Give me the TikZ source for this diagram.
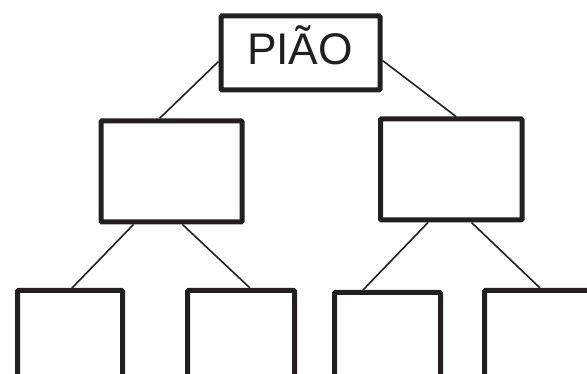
\documentclass[tikz,border=0pt]{standalone}
\usepackage{fontspec}
\setmainfont{Liberation Sans}
\definecolor{ink}{RGB}{35,31,32}
\begin{document}
\begin{tikzpicture}[x=1pt,y=-1pt,
  box/.style={draw=ink, line width=5pt, rounded corners=1pt, inner sep=0pt},
  conn/.style={draw=ink, line width=1.6pt}]
\useasboundingbox (0,0) rectangle (587,374);
\clip (0,0) rectangle (587,374);
% boxes
\node[box, minimum width=159pt, minimum height=74pt] (top) at (300.5,53) {};
\node[font=\fontsize{44.3}{50}\selectfont, text=ink, anchor=base, inner sep=0pt] (toplabel) at (300,65) {PIÃO};
\node[box, minimum width=141pt, minimum height=101pt] (ml) at (171.5,171.5) {};
\node[box, minimum width=141.5pt, minimum height=101pt] (mr) at (451.25,169.5) {};
\node[box, minimum width=105pt, minimum height=109.5pt] (b1) at (70,345.25) {};
\node[box, minimum width=107pt, minimum height=109.5pt] (b2) at (241,345.25) {};
\node[box, minimum width=106pt, minimum height=107.5pt] (b3) at (387.5,346.25) {};
\node[box, minimum width=110pt, minimum height=109.5pt] (b4) at (539.5,345.25) {};
% connectors
\draw[conn] ([yshift=-48pt]top.north west) -- ([xshift=61pt]ml.north west);
\draw[conn] ([yshift=-47pt]top.north east) -- ([xshift=78pt]mr.north west);
\draw[conn] ([xshift=35pt]ml.south west) -- ([xshift=57pt]b1.north west);
\draw[conn] ([xshift=84pt]ml.south west) -- ([xshift=65pt]b2.north west);
\draw[conn] ([xshift=50pt]mr.south west) -- ([xshift=31pt]b3.north west);
\draw[conn] ([xshift=93.5pt]mr.south west) -- ([xshift=58pt]b4.north west);
\end{tikzpicture}
\end{document}
